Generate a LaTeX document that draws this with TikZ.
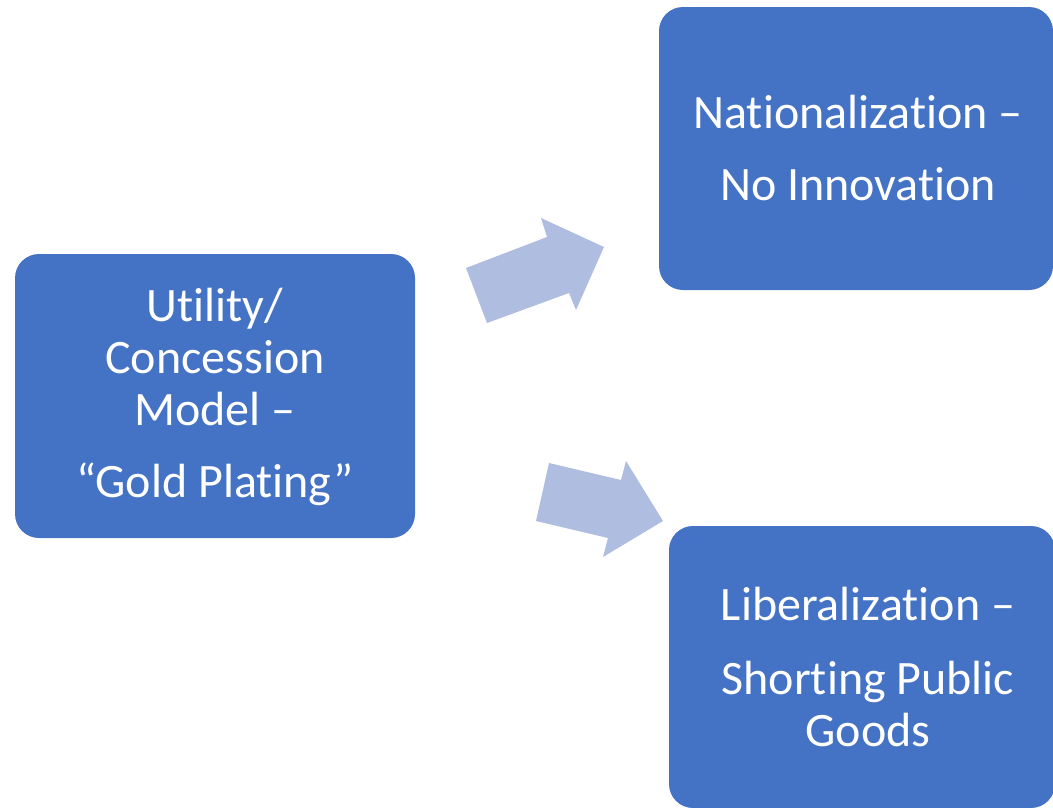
\documentclass[tikz,border=0pt]{standalone}
\usepackage{fontspec}
\setmainfont{Carlito}[Ligatures=NoCommon]
\definecolor{boxblue}{HTML}{4472C4}
\definecolor{arrowblue}{HTML}{AFBDE0}
\begin{document}
\begin{tikzpicture}[x=1pt,y=-1pt,
  box/.style={fill=boxblue, draw=none, rounded corners=24pt, inner sep=0pt},
  boxtext/.style={text=white, align=center, font=\fontsize{48}{52}\selectfont, inner sep=0pt},
  blockarrow/.style={fill=arrowblue, draw=none}]
\useasboundingbox (0,0) rectangle (1053,807);
\node[box, minimum width=400pt, minimum height=284pt] (util) at (215,396) {};
\node[box, minimum width=394pt, minimum height=283pt] (nat) at (856,148.5) {};
\node[box, minimum width=386pt, minimum height=282pt] (lib) at (862,667) {};
\node[boxtext] (utilt) at ([yshift=-1pt]util.center)
  {Utility/\\Concession\\Model –\\[20pt]“Gold Plating”};
\node[boxtext] (natt) at ([xshift=2pt]nat.center)
  {Nationalization –\\[20pt]No Innovation};
\node[boxtext] (libt) at ([xshift=6pt]lib.center)
  {Liberalization –\\[22pt]Shorting Public\\Goods};
% upper block arrow
\fill[blockarrow] (466,268) -- (547,237) -- (541,218) -- (604,247) -- (576,310)
  -- (569,293) -- (487,323) -- cycle;
% lower block arrow
\fill[blockarrow] (549,463) -- (621,480) -- (626,461) -- (663,521) -- (603,557)
  -- (608,538) -- (536,521) -- cycle;
\end{tikzpicture}
\end{document}
